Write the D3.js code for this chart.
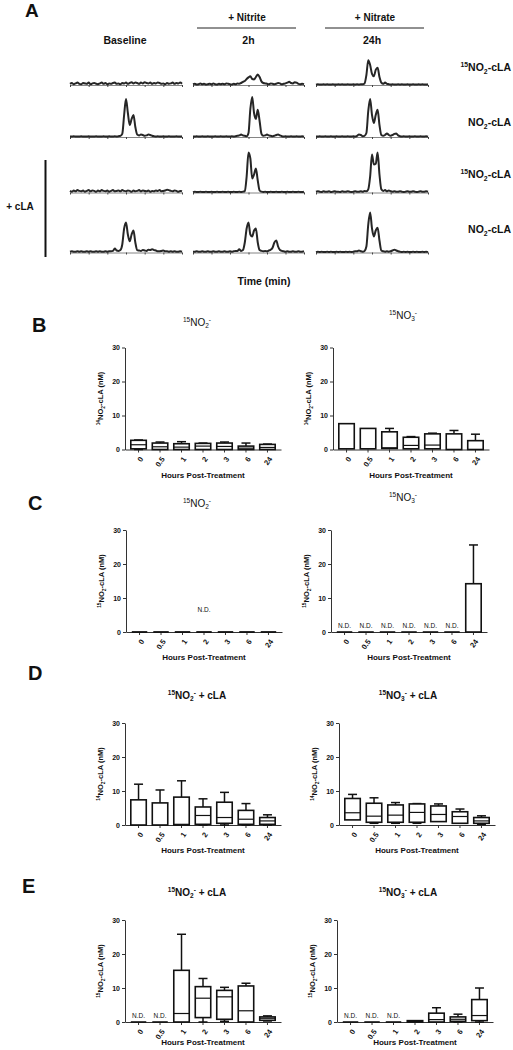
<!DOCTYPE html>
<html><head><meta charset="utf-8">
<script src="https://cdn.jsdelivr.net/npm/d3@7"></script>
<style>
body{margin:0;background:#fff;}
svg{display:block;}
text{font-family:'Liberation Sans',Arial,sans-serif;fill:#111;}
</style>
</head><body>
<svg id="fig" width="513" height="1050"></svg>
<script>
// ---------- Panel A: chromatogram traces (relative intensity, 0-100), sampled every 0.1 min over 0-6 min ----------
const r1c1 = [3,5,2,4,6,3,2,5,4,3,6,2,4,5,3,2,4,6,3,5,2,4,3,5,6,3,4,2,5,4,6,3,5,7,4,6,5,3,6,4,7,5,4,6,3,5,4,6,5,3,4,2,5,3,4,6,3,5,4,6,3];
const r1c2 = [2,3,1,2,4,2,3,1,2,3,2,4,2,1,3,2,3,2,4,3,2,1,3,2,4,3,5,8,10,15,19,22,15,14,20,26,20,9,5,4,3,2,4,3,2,3,5,4,2,3,4,6,8,5,4,7,6,3,2,3,2];
const r1c3 = [1,2,1,1,2,1,2,1,1,2,1,1,2,1,2,1,1,2,1,1,2,1,2,1,2,2,4,25,62,50,28,22,38,43,20,6,3,6,3,2,1,2,1,1,2,1,2,1,1,2,1,1,2,1,1,2,1,2,1,1,2];
const r2c1 = [1,1,2,1,1,1,2,1,1,1,2,1,1,1,2,1,1,1,2,1,1,2,1,1,2,1,2,3,8,55,95,60,30,45,55,25,6,4,6,5,3,4,6,5,3,2,1,2,1,1,2,1,1,2,1,1,1,2,1,1,2];
const r2c2 = [1,1,2,1,1,2,1,1,2,1,1,1,2,1,1,2,1,1,2,1,1,2,1,2,3,4,6,4,3,2,10,70,100,60,45,68,40,8,3,4,6,4,3,2,3,5,6,4,2,1,2,1,1,2,1,1,2,1,1,2,1];
const r2c3 = [1,1,2,1,1,2,1,1,2,1,1,2,1,1,2,1,1,2,1,1,2,1,3,6,5,2,3,10,65,95,55,35,55,68,30,5,3,5,9,5,3,5,8,9,4,2,1,2,1,1,2,1,1,2,1,1,2,1,1,2,1];
const r3c1 = [4,2,5,3,6,4,3,5,2,4,6,3,5,4,2,5,3,6,4,3,5,2,4,6,3,4,5,3,6,4,3,5,4,2,5,3,4,6,3,5,4,3,5,2,4,3,5,4,6,3,4,5,7,6,4,3,5,4,2,4,3];
const r3c2 = [1,2,1,1,2,1,1,2,1,1,2,1,1,2,1,1,2,1,1,2,1,1,2,1,1,2,1,2,3,40,100,85,35,45,60,30,5,2,1,2,1,1,2,1,1,2,1,1,2,1,1,2,1,1,2,1,1,2,1,1,2];
const r3c3 = [2,3,2,1,3,2,2,3,1,2,3,2,2,1,3,2,2,3,2,1,2,3,2,2,3,2,4,3,8,40,95,70,72,100,45,8,4,6,3,5,3,2,3,2,2,3,2,1,2,3,2,2,3,2,1,2,3,2,2,3,2];
const r4c1 = [2,3,2,2,3,2,3,2,2,3,2,3,2,2,3,2,3,2,2,3,2,3,3,4,10,5,4,6,20,60,75,45,28,45,55,25,6,5,4,6,5,4,7,6,8,6,5,3,3,4,5,3,3,2,3,2,3,2,2,3,2];
const r4c2 = [2,2,3,2,2,3,2,2,3,2,2,3,2,2,3,2,2,3,2,2,3,2,3,4,4,8,4,6,25,60,75,45,40,55,60,25,6,4,3,4,3,5,7,12,25,30,15,6,4,3,2,3,2,2,3,2,2,3,2,2,3];
const r4c3 = [1,2,1,2,1,1,2,1,2,1,1,2,1,2,1,1,2,1,2,1,2,3,3,5,3,2,4,15,70,100,60,40,55,62,30,5,3,2,3,2,3,5,7,5,3,2,1,2,1,2,1,1,2,1,2,1,1,2,1,2,1];
const chromTraces = [[r1c1,r1c2,r1c3],[r2c1,r2c2,r2c3],[r3c1,r3c2,r3c3],[r4c1,r4c2,r4c3]];
const chromTime = r1c1.map((_, i) => i / 10);
const chromTicks = [0,1,2,3,4,5,6];
const colLabels = ["Baseline","2h","24h"];

// ---------- Panels B-E: box data [min, q1, median, q3, max] per hour (nM); null = N.D. ----------
const hours = ["0","0.5","1","2","3","6","24"];
const yTicks = [0,10,20,30];
const bNitrite = [[0,0.2,1.4,2.7,2.8],[0,0,0.8,1.9,2.2],[0,0,0.7,1.7,2.3],[0,0,1.0,1.8,1.9],[0,0,0.9,1.9,2.2],[0,0,0.4,1.0,1.9],[0,0,0.6,1.5,1.6]];
const bNitrate = [[0.2,0.2,0.2,7.6,7.6],[0.2,0.2,0.2,6.2,6.2],[0.3,0.3,0.5,5.2,6.2],[0.2,0.2,1.2,3.6,3.8],[0.2,0.2,1.3,4.6,4.8],[0,0,0,4.6,5.6],[0,0,0,2.6,4.5]];
const cNitrite = [[0,0,0,0,0],[0,0,0,0,0],[0,0,0,0,0],[0,0,0,0,0],[0,0,0,0,0],[0,0,0,0,0],[0,0,0,0,0]];
const cNitrate = [null,null,null,null,null,null,[0,0,0,14.2,25.6]];
const dNitrite = [[0,0,0,7.4,12],[0,0,0,6.5,10.3],[0,0,0.2,8.2,13],[0,0.2,2.8,5.3,7.7],[0,0.5,2.2,6.7,9.6],[0,0.2,1.7,4.3,6.3],[0,0.2,1.2,2.2,3.0]];
const dNitrate = [[1.5,1.5,3.6,7.8,9.0],[0.5,0.8,2.6,6.4,8.0],[0.5,0.8,2.9,5.9,6.6],[0.5,0.8,3.7,6.2,6.3],[1.0,1.0,3.1,5.6,6.2],[0.5,0.5,2.5,3.9,4.7],[0.2,0.5,1.2,2.2,2.7]];
const eNitrite = [null,null,[0,0,2.5,15.2,25.8],[0,1.3,7.0,10.4,12.8],[0.2,0.8,7.4,9.3,10.2],[0,0,3.3,10.6,11.4],[0.3,0.5,1.1,1.5,1.8]];
const eNitrate = [null,null,null,[0,0,0.1,0.4,0.4],[0,0,0.7,2.6,4.2],[0,0.2,0.8,1.5,2.3],[0,0.4,1.9,6.6,10]];

// rich-text label pieces
const lbl15cLA = [["15","sup"],["NO",""],["2","sub"],["-cLA",""]];
const lblcLA = [["NO",""],["2","sub"],["-cLA",""]];
const rowLabels = [lbl15cLA, lblcLA, lbl15cLA, lblcLA];
const tNO2 = [["15","sup"],["NO",""],["2","sub"],["-","sup"]];
const tNO3 = [["15","sup"],["NO",""],["3","sub"],["-","sup"]];
const tNO2cLA = [["15","sup"],["NO",""],["2","sub"],["-","sup"],[" + cLA",""]];
const tNO3cLA = [["15","sup"],["NO",""],["3","sub"],["-","sup"],[" + cLA",""]];
const yl14 = [["14","sup"],["NO",""],["2","sub"],["-cLA (nM)",""]];
const yl15 = [["15","sup"],["NO",""],["2","sub"],["-cLA (nM)",""]];

const svg = d3.select('#fig');

function rich(t, parts, size){
  let cur = 0;
  parts.forEach(([s, k]) => {
    const off = k === 'sup' ? -size*0.38 : k === 'sub' ? size*0.24 : 0;
    t.append('tspan').attr('dy', (off-cur).toFixed(2))
      .attr('font-size', k ? (size*0.65).toFixed(2) : size).text(s);
    cur = off;
  });
  return t;
}
function label(x, y, txt, size, weight, anchor){
  return svg.append('text').attr('x', x).attr('y', y).attr('font-size', size)
    .attr('font-weight', weight || 'normal').attr('text-anchor', anchor || 'middle').text(txt);
}

// ---------- Panel A ----------
label(25, 17, "A", 19, "bold", "start");
label(247, 21, "+ Nitrite", 10, "bold");
label(375, 21, "+ Nitrate", 10, "bold");
svg.append('line').attr('x1',197).attr('x2',296).attr('y1',28).attr('y2',28).attr('stroke','#222').attr('stroke-width',1);
svg.append('line').attr('x1',325).attr('x2',424).attr('y1',28).attr('y2',28).attr('stroke','#222').attr('stroke-width',1);
const colX = [[70,182],[193,304],[316,428]];
const rowBase = [85,137,192.5,252.5];
colLabels.forEach((c, j) => label((colX[j][0]+colX[j][1])/2 + (j===0?-1:0), 44, c, 10.5, "bold"));
const rowLabelY = [71,126,178,233];
rowLabels.forEach((p, i) => {
  const t = svg.append('text').attr('x', 511).attr('y', rowLabelY[i]).attr('text-anchor','end')
    .attr('font-size', 10.5).attr('font-weight','bold');
  rich(t, p, 10.5);
});
label(20, 210, "+ cLA", 10, "bold");
svg.append('line').attr('x1',45.5).attr('x2',45.5).attr('y1',160).attr('y2',257).attr('stroke','#111').attr('stroke-width',2);
label(264, 285, "Time (min)", 10.5, "bold");

chromTraces.forEach((row, i) => {
  row.forEach((vals, j) => {
    const x = d3.scaleLinear([0, 6], colX[j]);
    const y = d3.scaleLinear([0, 100], [rowBase[i], rowBase[i]-40]);
    const g = svg.append('g');
    const ax = g.append('g').attr('transform', `translate(0,${rowBase[i]})`)
      .call(d3.axisBottom(x).tickValues(chromTicks).tickSize(2).tickSizeOuter(0).tickFormat(''));
    ax.select('.domain').attr('stroke','#777').attr('stroke-width',0.9);
    ax.selectAll('.tick line').attr('stroke','#444').attr('stroke-width',1);
    g.append('path').datum(vals)
      .attr('d', d3.line().x((d, k) => x(chromTime[k])).y(d => y(d)).curve(d3.curveMonotoneX))
      .attr('fill','none').attr('stroke','#262626').attr('stroke-width',2).attr('stroke-linejoin','round');
  });
});

// ---------- Panels B-E ----------
[["B",32,332],["C",28,510],["D",28,680],["E",22,893]].forEach(([l,x,y]) => label(x, y, l, 20, "bold", "start"));

const panels = [
  {data:bNitrite, x0:125, y0:449.5, ylab:yl14, title:tNO2, tx:197, ty:326, tb:false, xl:28},
  {data:bNitrate, x0:333, y0:449.5, ylab:yl14, title:tNO3, tx:403, ty:319, tb:false, xl:28},
  {data:cNitrite, x0:126, y0:632, ylab:yl15, title:tNO2, tx:197, ty:507, tb:false, xl:28, ndCenter:true},
  {data:cNitrate, x0:331, y0:632, ylab:yl15, title:tNO3, tx:403, ty:501, tb:false, xl:28},
  {data:dNitrite, x0:125, y0:825, ylab:yl14, title:tNO2cLA, tx:197, ty:699, tb:true, xl:28},
  {data:dNitrate, x0:339, y0:825, ylab:yl14, title:tNO3cLA, tx:408, ty:699, tb:true, xl:28},
  {data:eNitrite, x0:125, y0:1022, ylab:yl15, title:tNO2cLA, tx:197, ty:896, tb:true, xl:23},
  {data:eNitrate, x0:337, y0:1022, ylab:yl15, title:tNO3cLA, tx:408, ty:896, tb:true, xl:23},
];

panels.forEach(p => {
  const W = 156;
  const x = d3.scaleBand(hours, [p.x0, p.x0 + W]).paddingInner(0.28).paddingOuter(0.27);
  const y = d3.scaleLinear([0, 30], [p.y0, p.y0 - 102]);
  const g = svg.append('g');
  // title
  const t = g.append('text').attr('x', p.tx).attr('y', p.ty).attr('text-anchor','middle')
    .attr('font-size', 10).attr('font-weight', p.tb ? 'bold' : 'normal');
  rich(t, p.title, 10);
  // y axis
  const ya = g.append('g').attr('transform', `translate(${p.x0},0)`)
    .call(d3.axisLeft(y).tickValues(yTicks).tickSize(3).tickSizeOuter(0).tickPadding(2));
  ya.selectAll('text').attr('font-size', 7).attr('font-weight','bold').attr('font-family', "'Liberation Sans',Arial,sans-serif").attr('fill','#333');
  ya.selectAll('path,line').attr('stroke','#333').attr('stroke-width',1);
  // x axis
  const xa = g.append('g').attr('transform', `translate(0,${p.y0})`)
    .call(d3.axisBottom(x).tickSize(3).tickSizeOuter(0).tickFormat(''));
  xa.selectAll('path,line').attr('stroke','#333').attr('stroke-width',1);
  hours.forEach(h => {
    const cx = x(h) + x.bandwidth()/2;
    g.append('text').attr('transform', `translate(${cx+3},${p.y0+8}) rotate(-55)`)
      .attr('text-anchor','end').attr('dy','0.35em').attr('font-size', 7.5).attr('font-weight','bold').attr('fill','#333').text(h);
  });
  // y label
  const yl = g.append('text').attr('transform', `translate(${p.x0-22},${p.y0-51}) rotate(-90)`)
    .attr('text-anchor','middle').attr('font-size', 7.5).attr('font-weight','bold');
  rich(yl, p.ylab, 7.5);
  // x label
  label((p.x0 + p.x0 + W)/2, p.y0 + p.xl, "Hours Post-Treatment", 8, "bold");
  // boxes
  const bw = x.bandwidth();
  p.data.forEach((d, i) => {
    const h = hours[i];
    const x1 = x(h), cx = x1 + bw/2;
    if (d === null) {
      g.append('line').attr('x1', x1).attr('x2', x1 + bw).attr('y1', y(0)).attr('y2', y(0))
        .attr('stroke','#111').attr('stroke-width',1.6);
      g.append('text').attr('x', cx).attr('y', y(1.2)).attr('text-anchor','middle')
        .attr('font-size', 6.5).attr('fill','#333').text("N.D.");
      return;
    }
    const [mn, q1, md, q3, mx] = d;
    if (mx > q3) {
      g.append('line').attr('x1',cx).attr('x2',cx).attr('y1',y(q3)).attr('y2',y(mx)).attr('stroke','#111').attr('stroke-width',1.5);
      g.append('line').attr('x1',cx-4.5).attr('x2',cx+4.5).attr('y1',y(mx)).attr('y2',y(mx)).attr('stroke','#111').attr('stroke-width',1.5);
    }
    if (mn < q1) {
      g.append('line').attr('x1',cx).attr('x2',cx).attr('y1',y(q1)).attr('y2',y(mn)).attr('stroke','#111').attr('stroke-width',1.5);
      g.append('line').attr('x1',cx-4.5).attr('x2',cx+4.5).attr('y1',y(mn)).attr('y2',y(mn)).attr('stroke','#111').attr('stroke-width',1.5);
    }
    if (q3 > q1) {
      g.append('rect').attr('x', x1).attr('width', bw).attr('y', y(q3)).attr('height', y(q1) - y(q3))
        .attr('fill','#fff').attr('stroke','#111').attr('stroke-width',1.6);
    } else {
      g.append('line').attr('x1', x1).attr('x2', x1 + bw).attr('y1', y(q1)).attr('y2', y(q1))
        .attr('stroke','#111').attr('stroke-width',1.8);
    }
    if (md > q1 && md < q3) {
      g.append('line').attr('x1',x1).attr('x2',x1+bw).attr('y1',y(md)).attr('y2',y(md)).attr('stroke','#111').attr('stroke-width',1.2);
    }
  });
  if (p.ndCenter) {
    g.append('text').attr('x', x("2") + bw/2).attr('y', y(6)).attr('text-anchor','middle')
      .attr('font-size', 6.5).attr('fill','#333').text("N.D.");
  }
});
</script>
</body></html>
